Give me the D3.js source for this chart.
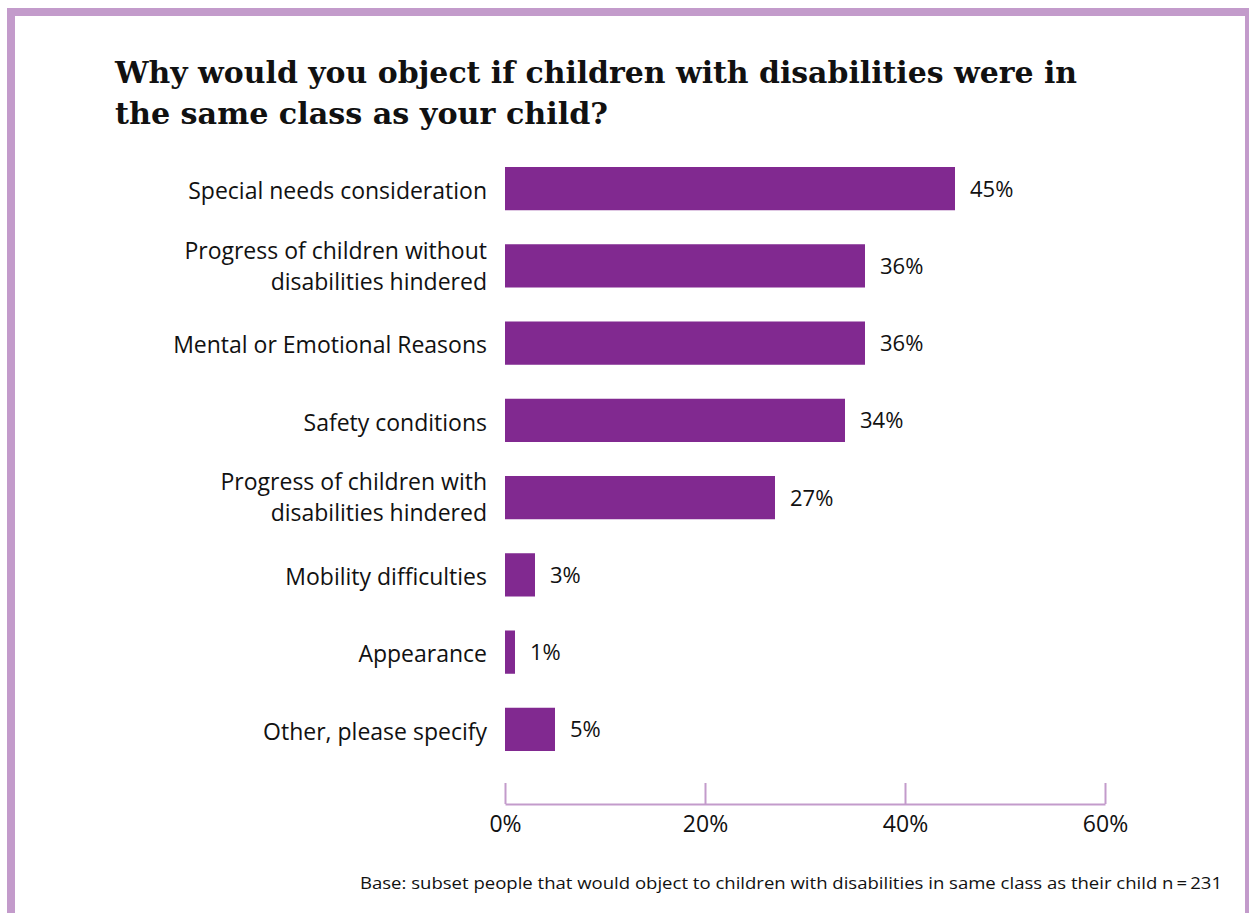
<!DOCTYPE html>
<html>
<head>
<meta charset="utf-8">
<script src="https://cdn.jsdelivr.net/npm/d3@7"></script>
<style>
  html, body { margin: 0; padding: 0; background: #ffffff; }
  svg { display: block; }
</style>
</head>
<body>
<svg id="chart" width="1250" height="913"></svg>
<script>
// Survey responses: reasons for objecting (share of respondents, %)
const categories = [
  ["Special needs consideration"],
  ["Progress of children without", "disabilities hindered"],
  ["Mental or Emotional Reasons"],
  ["Safety conditions"],
  ["Progress of children with", "disabilities hindered"],
  ["Mobility difficulties"],
  ["Appearance"],
  ["Other, please specify"]
];
const values = [45, 36, 36, 34, 27, 3, 1, 5];
const tickValues = [0, 20, 40, 60];
const titleLines = [
  "Why would you object if children with disabilities were in",
  "the same class as your child?"
];
const footnote = "Base: subset people that would object to children with disabilities in same class as their child n\u2009=\u2009231";

const purple = "#812990";
const frame = "#c39bcb";
const labelFont = "'Open Sans', 'Lato', sans-serif";

const svg = d3.select("#chart");

// Frame: heavy top and left edges, thin right edge
svg.append("rect").attr("x", 7).attr("y", 8).attr("width", 1242).attr("height", 8).attr("fill", frame);
svg.append("rect").attr("x", 7).attr("y", 8).attr("width", 8).attr("height", 905).attr("fill", frame);
svg.append("rect").attr("x", 1245).attr("y", 8).attr("width", 4).attr("height", 905).attr("fill", frame);

// Title
const titleWidths = [962, 493];
svg.append("g").selectAll("text").data(titleLines).join("text")
  .attr("x", 115)
  .attr("y", (d, i) => 83 + i * 41)
  .attr("font-family", "'DejaVu Serif', serif")
  .attr("font-weight", "bold")
  .attr("font-size", 30)
  .attr("fill", "#111")
  .attr("textLength", (d, i) => titleWidths[i])
  .attr("lengthAdjust", "spacingAndGlyphs")
  .text(d => d);

const x = d3.scaleLinear().domain([0, 60]).range([505, 1105]);
const y = d3.scaleBand().domain(d3.range(values.length)).range([150, 768]).paddingInner(0.44).paddingOuter(0.22);

// Bars
svg.append("g").selectAll("rect").data(values).join("rect")
  .attr("x", x(0))
  .attr("y", (d, i) => y(i))
  .attr("width", d => x(d) - x(0))
  .attr("height", y.bandwidth())
  .attr("fill", purple);

// Value labels
svg.append("g").selectAll("text").data(values).join("text")
  .attr("x", d => x(d) + 15)
  .attr("y", (d, i) => y(i) + y.bandwidth() / 2)
  .attr("dy", "0.36em")
  .attr("font-family", labelFont)
  .attr("font-size", 22)
  .attr("fill", "#111")
  .text(d => d + "%");

// Category labels (one or two lines)
const catG = svg.append("g").selectAll("text").data(categories).join("text")
  .attr("x", 487)
  .attr("text-anchor", "end")
  .attr("font-family", labelFont)
  .attr("font-size", 23)
  .attr("fill", "#111");
catG.each(function (lines, i) {
  const cy = y(i) + y.bandwidth() / 2 + (lines.length === 1 ? 2 : 0);
  const lh = 31;
  const top = cy - (lines.length - 1) * lh / 2;
  d3.select(this).selectAll("tspan").data(lines).join("tspan")
    .attr("x", 487)
    .attr("y", (d, j) => top + j * lh)
    .attr("dy", "0.36em")
    .text(d => d);
});

// Axis
const axis = d3.axisBottom(x).tickValues(tickValues).tickFormat(d => d + "%").tickSize(0).tickPadding(12);
const axG = svg.append("g").attr("transform", "translate(0,804)").call(axis);
axG.select(".domain").attr("stroke", frame).attr("stroke-width", 2);
axG.selectAll(".tick line").attr("y1", -21).attr("y2", 0).attr("stroke", frame).attr("stroke-width", 2);
axG.selectAll(".tick text")
  .attr("font-family", labelFont)
  .attr("font-size", 23)
  .attr("fill", "#111");

// Footnote
svg.append("text")
  .attr("x", 360)
  .attr("y", 889)
  .attr("font-family", labelFont)
  .attr("font-size", 16)
  .attr("fill", "#111")
  .attr("textLength", 862)
  .attr("lengthAdjust", "spacingAndGlyphs")
  .text(footnote);
</script>
</body>
</html>
